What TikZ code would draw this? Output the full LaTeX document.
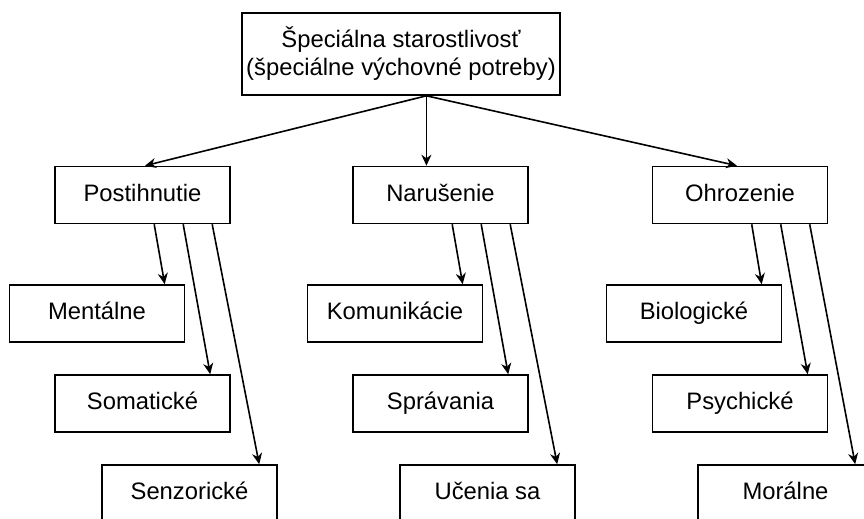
\documentclass[tikz,border=0pt]{standalone}
\usepackage{fontspec}
\setmainfont{Liberation Sans}
\usetikzlibrary{calc,arrows.meta}

\begin{document}
\begin{tikzpicture}[x=0.5pt, y=-0.5pt, line width=0.8pt,
  box/.style={draw, minimum width=87.5pt, minimum height=28.5pt, inner sep=2pt,
    font=\fontsize{11.9}{14}\selectfont},
  item/.style={box, text height=9pt, text depth=2.6pt},
  arr/.style={-{Stealth[length=5.5pt, width=5pt]}}]
  \useasboundingbox (0,0) rectangle (864,519);
  % top
  \node[box, minimum width=143pt, minimum height=41pt, align=center] (top) at (401,54)
    {Špeciálna starostlivosť\\(špeciálne výchovné potreby)};
  % second row
  \node[item] (post) at (142.5,195) {Postihnutie};
  \node[item] (nar) at (440.5,195) {Narušenie};
  \node[item] (ohr) at (740,195) {Ohrozenie};
  % third row
  \node[item] (ment) at (97,313.5) {Mentálne};
  \node[item] (soma) at (142.5,403.5) {Somatické};
  \node[item] (senz) at (189.5,493.5) {Senzorické};
  \node[item] (kom) at (395,313.5) {Komunikácie};
  \node[item] (spr) at (440.5,403.5) {Správania};
  \node[item] (uc) at (487.5,493.5) {Učenia sa};
  \node[item] (bio) at (694,313.5) {Biologické};
  \node[item] (psy) at (740,403.5) {Psychické};
  \node[item] (mor) at (785.5,493.5) {Morálne};

  \coordinate (fork) at ($(top.south west)+(185,0)$);
  \draw[arr] (fork) -- ($(post.north)+(2.5,0)$);
  \draw[arr] (fork) -- (fork |- nar.north);
  \draw[arr] (fork) -- ($(ohr.north)+(-3,0)$);

  \foreach \p/\a/\b/\c in {post/ment/soma/senz, nar/kom/spr/uc, ohr/bio/psy/mor} {
    \draw[arr] ($(\p.south west)+(100,0)$) -- ($(\a.north west)+(156,0)$);
    \draw[arr] ($(\p.south west)+(129,0)$) -- ($(\b.north west)+(156,0)$);
    \draw[arr] ($(\p.south west)+(158,0)$) -- ($(\c.north west)+(158,0)$);
  }
\end{tikzpicture}
\end{document}
